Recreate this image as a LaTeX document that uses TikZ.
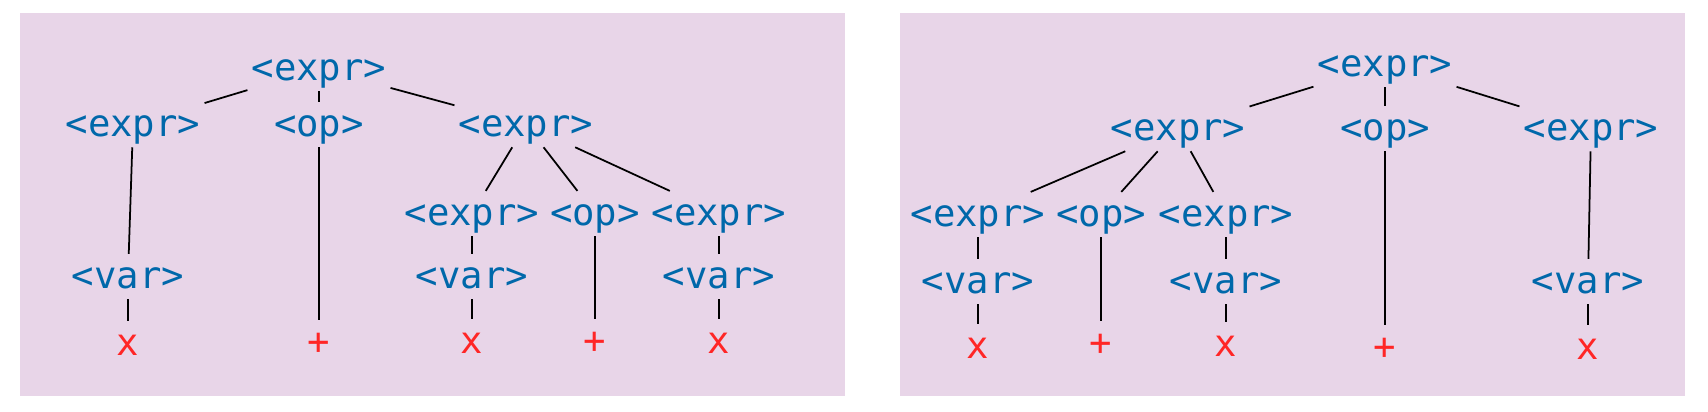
\documentclass[tikz,border=0pt]{standalone}
\usepackage{fontspec}
\newfontfamily\kodefont{DejaVu Sans Mono}
\definecolor{biru}{RGB}{0,104,170}
\definecolor{merah}{RGB}{255,38,38}
\definecolor{merahmuda}{RGB}{232,213,232}
\begin{document}
\begin{tikzpicture}[x=0.01cm, y=-0.01cm,
      simpul/.style={anchor=base, inner xsep=1pt, inner ysep=0pt, text height=0.95em, text depth=0.3em,
        font=\kodefont\fontsize{10.6}{12}\selectfont, text=biru},
      daun/.style={simpul, text=merah},
      garis/.style={line width=0.5pt}]
    \useasboundingbox (0,0) rectangle (1708,411);
    \fill[merahmuda] (20,13) rectangle (845,396);
    \fill[merahmuda] (900,13) rectangle (1685,396);
    % pohon kiri
    \node[simpul] (lakar) at (319,80) {<expr>};
    \node[simpul] (lexpr1) at (133,136) {<expr>};
    \node[simpul] (lop1) at (319,136) {<op>};
    \node[simpul] (lexpr2) at (526,136) {<expr>};
    \node[simpul] (lexpr3) at (472,225) {<expr>};
    \node[simpul] (lop2) at (595,225) {<op>};
    \node[simpul] (lexpr4) at (719,225) {<expr>};
    \node[simpul] (lvar1) at (128,288) {<var>};
    \node[simpul] (lvar2) at (472,288) {<var>};
    \node[simpul] (lvar3) at (719,288) {<var>};
    \node[daun] (lx1) at (128,355) {x};
    \node[daun] (lplus1) at (319,354) {+};
    \node[daun] (lx2) at (472,353) {x};
    \node[daun] (lplus2) at (595,353) {+};
    \node[daun] (lx3) at (719,353) {x};
    \draw[garis] (lakar) -- (lexpr1);
    \draw[garis] (lakar) -- (lop1);
    \draw[garis] (lakar) -- (lexpr2);
    \draw[garis] (lexpr1) -- (lvar1);
    \draw[garis] (lvar1) -- (lx1);
    \draw[garis] (lop1) -- (lplus1);
    \draw[garis] (lexpr2) -- (lexpr3);
    \draw[garis] (lexpr2) -- (lop2);
    \draw[garis] (lexpr2) -- (lexpr4);
    \draw[garis] (lexpr3) -- (lvar2);
    \draw[garis] (lvar2) -- (lx2);
    \draw[garis] (lop2) -- (lplus2);
    \draw[garis] (lexpr4) -- (lvar3);
    \draw[garis] (lvar3) -- (lx3);
    % pohon kanan
    \node[simpul] (rakar) at (1385,76) {<expr>};
    \node[simpul] (rexpr1) at (1178,140) {<expr>};
    \node[simpul] (rop1) at (1385,140) {<op>};
    \node[simpul] (rexpr2) at (1591,140) {<expr>};
    \node[simpul] (rexpr3) at (978,226) {<expr>};
    \node[simpul] (rop2) at (1101,226) {<op>};
    \node[simpul] (rexpr4) at (1226,226) {<expr>};
    \node[simpul] (rvar1) at (978,293) {<var>};
    \node[simpul] (rvar2) at (1226,293) {<var>};
    \node[simpul] (rvar3) at (1588,293) {<var>};
    \node[daun] (rx1) at (978,358) {x};
    \node[daun] (rplus1) at (1101,355) {+};
    \node[daun] (rx2) at (1226,356) {x};
    \node[daun] (rplus2) at (1385,359) {+};
    \node[daun] (rx3) at (1588,359) {x};
    \draw[garis] (rakar) -- (rexpr1);
    \draw[garis] (rakar) -- (rop1);
    \draw[garis] (rakar) -- (rexpr2);
    \draw[garis] (rexpr1) -- (rexpr3);
    \draw[garis] (rexpr1) -- (rop2);
    \draw[garis] (rexpr1) -- (rexpr4);
    \draw[garis] (rexpr3) -- (rvar1);
    \draw[garis] (rvar1) -- (rx1);
    \draw[garis] (rop2) -- (rplus1);
    \draw[garis] (rexpr4) -- (rvar2);
    \draw[garis] (rvar2) -- (rx2);
    \draw[garis] (rop1) -- (rplus2);
    \draw[garis] (rexpr2) -- (rvar3);
    \draw[garis] (rvar3) -- (rx3);
  \end{tikzpicture}
\end{document}
